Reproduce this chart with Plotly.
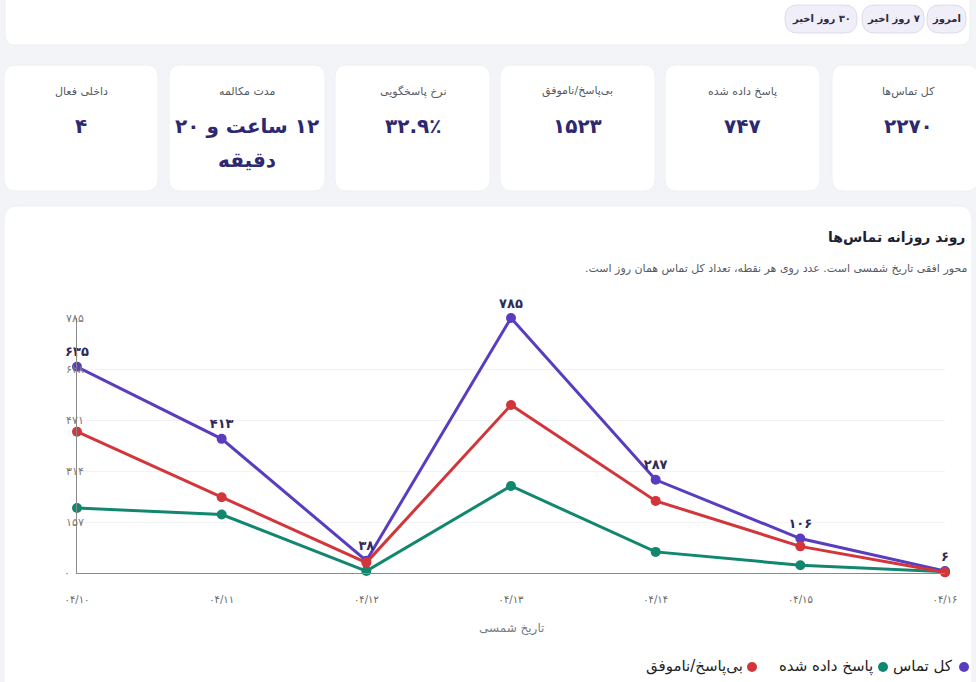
import plotly.graph_objects as go

W, H = 976, 682

# ---------------- data ----------------
dates = ["04/10", "04/11", "04/12", "04/13", "04/14", "04/15", "04/16"]
total = [635, 413, 38, 785, 287, 106, 6]
answered = [200, 180, 6, 268, 65, 24, 4]
unanswered = [435, 233, 32, 517, 222, 82, 2]
y_ticks = [0, 157, 314, 471, 628, 785]
series_names = ["کل تماس", "پاسخ داده شده", "بی‌پاسخ/ناموفق"]
series_colors = ["#5a3dbf", "#12876f", "#d2353a"]

kpi_labels = ["کل تماس‌ها", "پاسخ داده شده", "بی‌پاسخ/ناموفق", "نرخ پاسخگویی", "مدت مکالمه", "داخلی فعال"]
kpi_values = ["2270", "747", "1523", "32.9٪", "12 ساعت و 20", "4"]
kpi_values_line2 = ["", "", "", "", "دقیقه", ""]
range_buttons = ["امروز", "7 روز اخیر", "30 روز اخیر"]

chart_title = "روند روزانه تماس‌ها"
chart_subtitle = "محور افقی تاریخ شمسی است. عدد روی هر نقطه، تعداد کل تماس همان روز است."
x_title = "تاریخ شمسی"

FONT = "DejaVu Sans"


def fa(s):
    return str(s).translate(str.maketrans("0123456789", "۰۱۲۳۴۵۶۷۸۹"))


def rtl(s):
    return "\u202b" + s + "\u202c"


def X(x):
    return x / W


def Y(y):
    return 1 - y / H


def rrect(x0, y0, x1, y1, r, fill, line="rgba(0,0,0,0)"):
    p = (f"M {X(x0+r)},{Y(y0)} L {X(x1-r)},{Y(y0)} Q {X(x1)},{Y(y0)} {X(x1)},{Y(y0+r)} "
         f"L {X(x1)},{Y(y1-r)} Q {X(x1)},{Y(y1)} {X(x1-r)},{Y(y1)} "
         f"L {X(x0+r)},{Y(y1)} Q {X(x0)},{Y(y1)} {X(x0)},{Y(y1-r)} "
         f"L {X(x0)},{Y(y0+r)} Q {X(x0)},{Y(y0)} {X(x0+r)},{Y(y0)} Z")
    return dict(type="path", path=p, xref="paper", yref="paper", fillcolor=fill,
                line=dict(color=line, width=1), layer="below")


def ann(x, y, text, size, color, weight="normal", xanchor="center"):
    return dict(x=X(x), y=Y(y), xref="paper", yref="paper", xanchor=xanchor, yanchor="middle",
                text=text, showarrow=False,
                font=dict(family=FONT, size=size, color=color, weight=weight))


xcat = [fa(d) for d in dates]

fig = go.Figure()
fig.add_trace(go.Scatter(
    x=xcat, y=total, name=series_names[0], mode="lines+markers+text",
    line=dict(color=series_colors[0], width=3), marker=dict(size=10, color=series_colors[0]),
    text=[fa(v) for v in total], textposition="top center",
    textfont=dict(family=FONT, size=13, color="#2e2a58", weight="bold"),
    cliponaxis=False, showlegend=False))
fig.add_trace(go.Scatter(
    x=xcat, y=answered, name=series_names[1], mode="lines+markers",
    line=dict(color=series_colors[1], width=3), marker=dict(size=10, color=series_colors[1]),
    cliponaxis=False, showlegend=False))
fig.add_trace(go.Scatter(
    x=xcat, y=unanswered, name=series_names[2], mode="lines+markers",
    line=dict(color=series_colors[2], width=3), marker=dict(size=10, color=series_colors[2]),
    cliponaxis=False, showlegend=False))

shapes = []
annotations = []

# top bar
shapes.append(rrect(5, -20, 970, 45, 10, "#ffffff", "#eceef2"))
btn_boxes = [(927, 966), (862, 924), (785, 857)]
for (bx0, bx1), label in zip(btn_boxes, range_buttons):
    shapes.append(rrect(bx0, 5, bx1, 33, 13, "#f0eef8", "#dedbea"))
    annotations.append(ann((bx0 + bx1) / 2, 19, rtl(fa(label)), 10, "#2b2840", "bold"))

# KPI cards (right to left)
cards = [(832, 978), (665, 820), (500, 655), (335, 490), (169, 325), (4, 158)]
for (cx0, cx1), lab, val, val2 in zip(cards, kpi_labels, kpi_values, kpi_values_line2):
    shapes.append(rrect(cx0, 65, cx1, 191, 12, "#ffffff", "#eef0f3"))
    cx = (cx0 + cx1) / 2 if cx1 < 976 else 908
    annotations.append(ann(cx, 91, rtl(lab), 11, "#555a63"))
    annotations.append(ann(cx, 126, rtl(fa(val)), 20, "#2d2870", "bold"))
    if val2:
        annotations.append(ann(cx, 160, rtl(fa(val2)), 20, "#2d2870", "bold"))

# chart card
shapes.append(rrect(4, 206, 972, 720, 14, "#ffffff", "#eef0f3"))
annotations.append(ann(967, 237, rtl(chart_title), 14, "#1d2230", "bold", "right"))
annotations.append(ann(970, 268, rtl(chart_subtitle), 11, "#555a63", "normal", "right"))
annotations.append(ann(511, 628, rtl(x_title), 12, "#777b84"))

# legend (RTL, marker on the right of the text)
leg_items = [(964, 955), (883, 875), (752, 745)]
for (dx, tx), name, col in zip(leg_items, series_names, series_colors):
    shapes.append(dict(type="circle", xref="paper", yref="paper",
                       x0=X(dx - 5), x1=X(dx + 5), y0=Y(672), y1=Y(662),
                       fillcolor=col, line=dict(width=0)))
    annotations.append(ann(tx, 666, rtl(name), 15, "#222222", "normal", "right"))

# y tick labels appear left-aligned in the reference: pad short ones with figure spaces
y_ticktext = [fa(v) + "\u2007" * (3 - len(str(v))) for v in y_ticks]

fig.update_layout(
    width=W, height=H, margin=dict(l=0, r=0, t=0, b=0, autoexpand=False),
    paper_bgcolor="#f2f4f7", plot_bgcolor="rgba(0,0,0,0)",
    font=dict(family=FONT),
    shapes=shapes, annotations=annotations,
    xaxis=dict(domain=[X(77), X(945)], type="category", range=[0, 6], automargin=False,
               showgrid=False, showline=True, linecolor="#8a8a8a", linewidth=1,
               ticks="", tickfont=dict(family=FONT, size=10, color="#666"),
               ticklabelstandoff=17, zeroline=False),
    yaxis=dict(domain=[Y(573), Y(318)], range=[0, 785], automargin=False,
               tickvals=y_ticks, ticktext=y_ticktext,
               showgrid=True, gridcolor="#f3f3f6", showline=True, linecolor="#8a8a8a", linewidth=1,
               ticks="", ticklabelstandoff=-10,
               tickfont=dict(family=FONT, size=11, color="#777"), zeroline=False),
)

fig.write_html("out.html")
